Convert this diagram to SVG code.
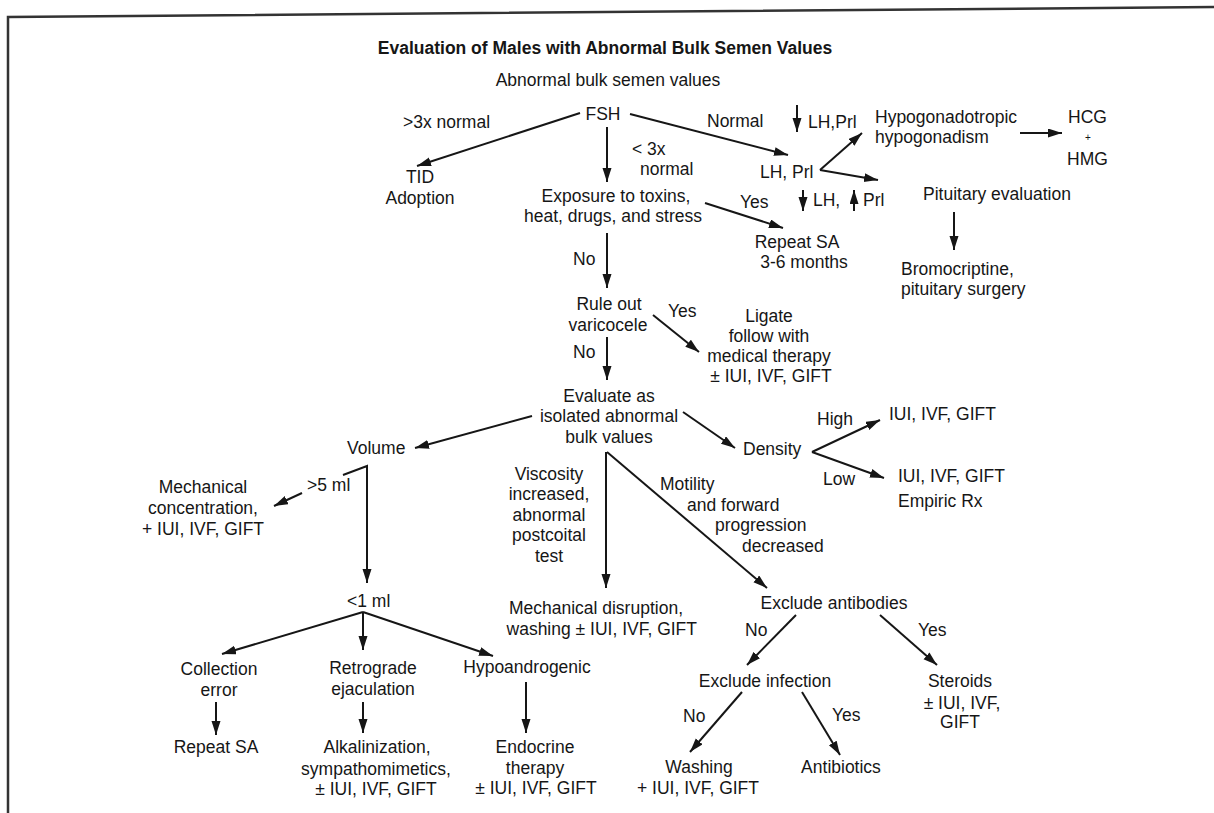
<svg xmlns="http://www.w3.org/2000/svg" width="1214" height="813" viewBox="0 0 1214 813">
<style>
text{font-family:"Liberation Sans",Arial,Helvetica,sans-serif;font-size:17.5px;fill:#161616}
.c{text-anchor:middle}
.e{text-anchor:end}
.t{font-weight:bold}
.ln{stroke:#161616;stroke-width:2;fill:none;marker-end:url(#ah)}
.fr{stroke:#333;stroke-width:2.5;fill:none}
</style>
<defs>
<marker id="ah" markerUnits="userSpaceOnUse" markerWidth="15" markerHeight="10" refX="14" refY="4.5" orient="auto">
<path d="M0,0 L14,4.5 L0,9 z" fill="#161616"/>
</marker>
</defs>
<rect width="1214" height="813" fill="#fff"/>
<path class="fr" d="M8,813 L8,17 L1214,7"/>

<g id="title"><text class="c t" x="605" y="54">Evaluation of Males with Abnormal Bulk Semen Values</text></g>
<g id="start"><text class="c" x="608" y="86">Abnormal bulk semen values</text></g>
<g id="fsh"><text class="c" x="603" y="120">FSH</text></g>
<g id="tid"><text class="c" x="420" y="183">TID</text><text class="c" x="420" y="204">Adoption</text></g>
<g id="lhprl"><text x="760" y="178">LH, Prl</text></g>
<g id="hypogonadism"><text x="875" y="123">Hypogonadotropic</text><text x="875" y="143">hypogonadism</text></g>
<g id="hcg"><text x="1068" y="123">HCG</text><text class="c" x="1088" y="141" style="font-size:10px">+</text><text x="1067" y="165">HMG</text></g>
<g id="pituitary"><text x="923" y="200">Pituitary evaluation</text></g>
<g id="bromo"><text x="901" y="275">Bromocriptine,</text><text x="901" y="295">pituitary surgery</text></g>
<g id="exposure"><text class="c" x="616" y="202">Exposure to toxins,</text><text class="c" x="613" y="222">heat, drugs, and stress</text></g>
<g id="repeat1"><text class="c" x="797" y="248">Repeat SA</text><text class="c" x="804" y="268">3-6 months</text></g>
<g id="varicocele"><text class="c" x="609" y="310">Rule out</text><text class="c" x="608" y="331">varicocele</text></g>
<g id="ligate"><text class="c" x="769" y="322">Ligate</text><text class="c" x="769" y="342">follow with</text><text class="c" x="769" y="362">medical therapy</text><text class="c" x="771" y="382">± IUI, IVF, GIFT</text></g>
<g id="evaluate"><text class="c" x="609" y="402">Evaluate as</text><text class="c" x="609" y="422">isolated abnormal</text><text class="c" x="609" y="443">bulk values</text></g>
<g id="volume"><text x="347" y="454">Volume</text></g>
<g id="mechconc"><text class="c" x="203" y="493">Mechanical</text><text class="c" x="203" y="514">concentration,</text><text class="c" x="203" y="535">+  IUI, IVF, GIFT</text></g>
<g id="lt1ml"><text x="347" y="607">&lt;1 ml</text></g>
<g id="density"><text x="743" y="455">Density</text></g>
<g id="high"><text x="889" y="420">IUI, IVF, GIFT</text></g>
<g id="low"><text x="898" y="482">IUI, IVF, GIFT</text><text x="898" y="507">Empiric Rx</text></g>
<g id="mechdis"><text class="e" x="683" y="614">Mechanical disruption,</text><text class="e" x="697" y="635">washing ± IUI, IVF, GIFT</text></g>
<g id="antibodies"><text class="c" x="834" y="609">Exclude antibodies</text></g>
<g id="infection"><text class="c" x="765" y="687">Exclude infection</text></g>
<g id="steroids"><text class="c" x="960" y="687">Steroids</text><text class="c" x="962" y="709">± IUI, IVF,</text><text class="c" x="960" y="728">GIFT</text></g>
<g id="washing"><text class="c" x="699" y="773">Washing</text><text class="e" x="759" y="794">+ IUI, IVF, GIFT</text></g>
<g id="antibiotics"><text class="c" x="841" y="773">Antibiotics</text></g>
<g id="collection"><text class="c" x="219" y="675">Collection</text><text class="c" x="219" y="696">error</text></g>
<g id="repeat2"><text class="c" x="216" y="753">Repeat SA</text></g>
<g id="retrograde"><text class="c" x="373" y="674">Retrograde</text><text class="c" x="373" y="695">ejaculation</text></g>
<g id="alkal"><text class="c" x="377" y="753">Alkalinization,</text><text class="c" x="376" y="775">sympathomimetics,</text><text class="c" x="376" y="795">± IUI, IVF, GIFT</text></g>
<g id="hypoandro"><text class="c" x="527" y="673">Hypoandrogenic</text></g>
<g id="endocrine"><text class="c" x="535" y="753">Endocrine</text><text class="c" x="535" y="774">therapy</text><text class="c" x="536" y="794">± IUI, IVF, GIFT</text></g>

<g id="connectors">
<line class="ln" x1="580" y1="113" x2="417" y2="166"/>
<line class="ln" x1="607" y1="127" x2="607" y2="182"/>
<line class="ln" x1="630" y1="114" x2="788" y2="155"/>
<line class="ln" x1="797" y1="105" x2="797" y2="132"/>
<line class="ln" x1="820" y1="170" x2="862" y2="133"/>
<line class="ln" x1="820" y1="170" x2="878" y2="180"/>
<line class="ln" x1="803" y1="190" x2="803" y2="211"/>
<line class="ln" x1="854" y1="211" x2="854" y2="190"/>
<line class="ln" x1="1020" y1="133" x2="1062" y2="133"/>
<line class="ln" x1="954" y1="212" x2="954" y2="250"/>
<line class="ln" x1="705" y1="203" x2="783" y2="228"/>
<line class="ln" x1="607" y1="233" x2="607" y2="288"/>
<line class="ln" x1="653" y1="315" x2="699" y2="352"/>
<line class="ln" x1="607" y1="337" x2="607" y2="380"/>
<line class="ln" x1="532" y1="416" x2="415" y2="448"/>
<line class="ln" x1="683" y1="412" x2="735" y2="448"/>
<line class="ln" x1="812" y1="452" x2="880" y2="420"/>
<line class="ln" x1="812" y1="452" x2="884" y2="478"/>
<line class="ln" x1="606" y1="452" x2="606" y2="588"/>
<line class="ln" x1="607" y1="452" x2="767" y2="588"/>
<polyline class="ln" points="343,475 367,466 367,583"/>
<line class="ln" x1="302" y1="493" x2="274" y2="506"/>
<line class="ln" x1="363" y1="612" x2="222" y2="654"/>
<line class="ln" x1="363" y1="612" x2="363" y2="650"/>
<line class="ln" x1="363" y1="612" x2="493" y2="656"/>
<line class="ln" x1="216" y1="702" x2="216" y2="735"/>
<line class="ln" x1="363" y1="702" x2="363" y2="733"/>
<line class="ln" x1="526" y1="682" x2="526" y2="733"/>
<line class="ln" x1="796" y1="615" x2="747" y2="665"/>
<line class="ln" x1="880" y1="615" x2="937" y2="665"/>
<line class="ln" x1="742" y1="692" x2="690" y2="752"/>
<line class="ln" x1="802" y1="692" x2="840" y2="755"/>
</g>

<g id="edge-labels">
<text x="403" y="128">&gt;3x normal</text>
<text x="632" y="155">&lt; 3x</text>
<text x="640" y="175">normal</text>
<text x="707" y="127">Normal</text>
<text x="808" y="128">LH,Prl</text>
<text x="813" y="206">LH,</text>
<text x="863" y="206">Prl</text>
<text x="740" y="208">Yes</text>
<text x="573" y="265">No</text>
<text x="668" y="317">Yes</text>
<text x="573" y="358">No</text>
<text x="307" y="491">&gt;5 ml</text>
<text x="817" y="425">High</text>
<text x="823" y="485">Low</text>
<text class="c" x="549" y="480">Viscosity</text>
<text class="c" x="549" y="500">increased,</text>
<text class="c" x="549" y="521">abnormal</text>
<text class="c" x="549" y="541">postcoital</text>
<text class="c" x="549" y="562">test</text>
<text x="660" y="490">Motility</text>
<text x="687" y="511">and forward</text>
<text x="715" y="531">progression</text>
<text x="742" y="552">decreased</text>
<text x="745" y="636">No</text>
<text x="918" y="636">Yes</text>
<text x="683" y="722">No</text>
<text x="832" y="721">Yes</text>
</g>
</svg>
